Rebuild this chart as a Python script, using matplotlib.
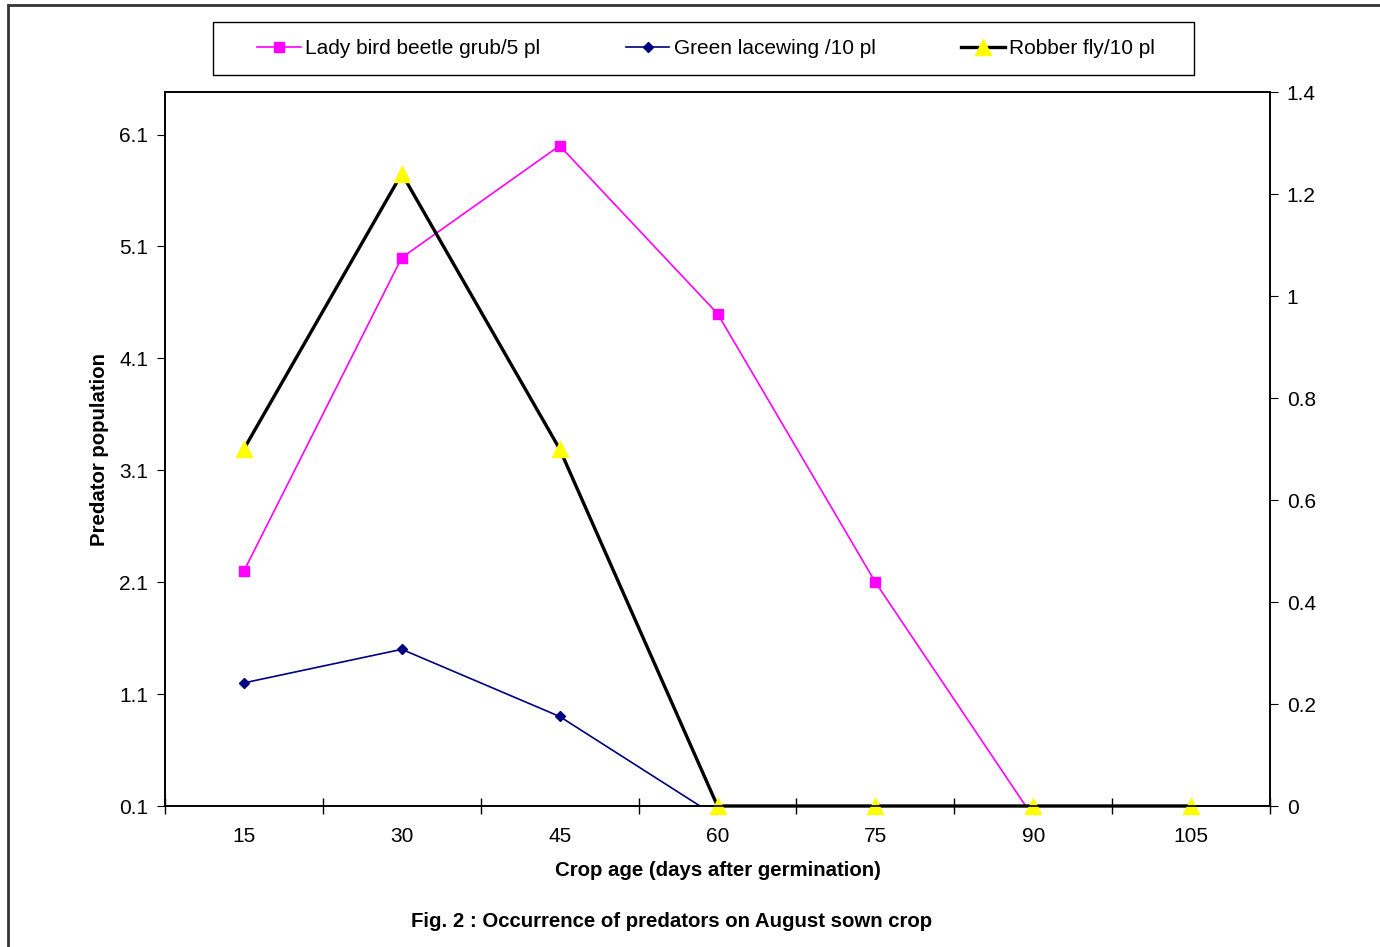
import matplotlib
matplotlib.use("Agg")
import matplotlib.pyplot as plt
from matplotlib.patches import Rectangle
from matplotlib.ticker import FuncFormatter

plt.rcParams["font.family"] = ["Liberation Sans", "DejaVu Sans"]

crop_age = ["15", "30", "45", "60", "75", "90", "105"]
lady_bird = [2.2, 5.0, 6.0, 4.5, 2.1, 0, 0]
lacewing = [1.2, 1.5, 0.9, 0, 0, 0, 0]
robber_fly = [0.7, 1.24, 0.7, 0, 0, 0, 0]
left_ticks = [0.1, 1.1, 2.1, 3.1, 4.1, 5.1, 6.1]
right_ticks = [0, 0.2, 0.4, 0.6, 0.8, 1.0, 1.2, 1.4]


def main():
    fig = plt.figure(figsize=(13.8, 9.47), dpi=100)
    ax = fig.add_axes([165 / 1380, 1 - 806 / 947, (1270 - 165) / 1380, (806 - 92) / 947])
    ax2 = ax.twinx()

    x = list(range(len(crop_age)))
    l1, = ax.plot(x, lady_bird, color="#ff00ff", lw=1.2, marker="s", ms=7,
                  label="Lady bird beetle grub/5 pl")
    l2, = ax.plot(x, lacewing, color="#000080", lw=1.2, marker="D", ms=5,
                  label="Green lacewing /10 pl")
    l3, = ax2.plot(x, robber_fly, color="black", lw=2.4, marker="^", ms=12,
                   mfc="yellow", mec="yellow", label="Robber fly/10 pl", clip_on=False)

    ax.set_xlim(-0.5, len(crop_age) - 0.5)
    ax.set_ylim(0.1, 6.48)
    ax2.set_ylim(0, 1.4)

    ax.set_xticks(x)
    ax.set_xticklabels(crop_age)
    ax.set_xticks([i - 0.5 for i in range(len(crop_age) + 1)], minor=True)
    ax.tick_params(axis="x", which="major", length=0, labelsize=15, pad=15)
    ax.tick_params(axis="x", which="minor", direction="inout", length=12, width=1)
    ax.set_yticks(left_ticks)
    ax.set_yticklabels([f"{v:.1f}" for v in left_ticks])
    ax.tick_params(axis="y", direction="out", length=6, labelsize=15, pad=6)
    ax2.set_yticks(right_ticks)
    ax2.yaxis.set_major_formatter(FuncFormatter(lambda v, p: f"{v:g}"))
    ax2.tick_params(axis="y", direction="out", length=6, labelsize=15, pad=6)

    for a in (ax, ax2):
        for s in a.spines.values():
            s.set_linewidth(1.2)

    ax.set_xlabel("Crop age (days after germination)", fontsize=14.7, fontweight="bold", labelpad=11)
    ax.set_ylabel("Predator population", fontsize=14.7, fontweight="bold", labelpad=7)

    fig.text(672 / 1380, 1 - 921 / 947, "Fig. 2 : Occurrence of predators on August sown crop",
             ha="center", va="center", fontsize=14.7, fontweight="bold")

    # legend entries spread over the inner width, box drawn separately
    fig.legend(handles=[l1, l2, l3], loc="center", ncol=3,
               bbox_to_anchor=(257 / 1380, 1 - 75 / 947, (1155 - 257) / 1380, 53 / 947),
               mode="expand", fontsize=15, frameon=False, borderaxespad=0, borderpad=0,
               handlelength=2.1, handletextpad=0.2, columnspacing=2)
    fig.patches.append(Rectangle((213 / 1380, 1 - 75 / 947), (1194 - 213) / 1380, 53 / 947,
                                 transform=fig.transFigure, fill=False,
                                 edgecolor="black", lw=1.0))

    fig.patches.append(Rectangle((8 / 1380, -0.1), 1.2, 1.1 - 5 / 947,
                                 transform=fig.transFigure, fill=False,
                                 edgecolor="#333333", lw=2))

    fig.savefig("out.png", dpi=100)


if __name__ == '__main__':
    main()
